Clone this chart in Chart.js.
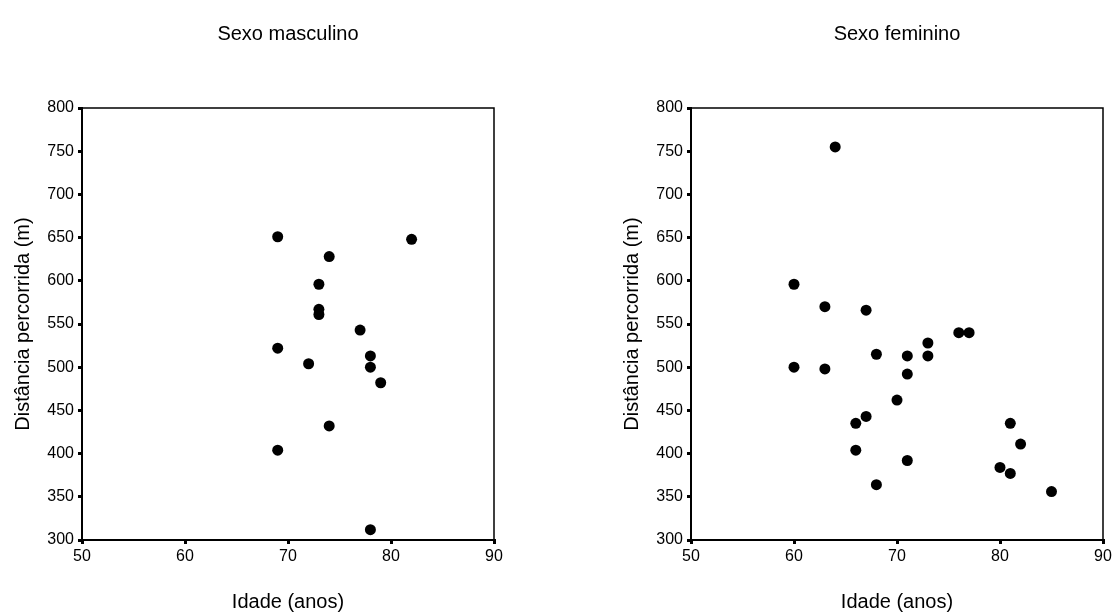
<!DOCTYPE html>
<html lang="pt">
<head>
<meta charset="utf-8">
<title>Distância percorrida por idade</title>
<script src="https://cdn.jsdelivr.net/npm/chart.js@4/dist/chart.umd.min.js"></script>
<style>
    html, body { margin: 0; padding: 0; background: #fff; }
    body { width: 1115px; height: 614px; position: relative; overflow: hidden; }
    canvas { position: absolute; top: 0; }
    #chartMasculino { left: 0; }
    #chartFeminino { left: 609px; }
</style>
</head>
<body>
<canvas id="chartMasculino" width="506" height="614"></canvas>
<canvas id="chartFeminino" width="506" height="614"></canvas>
<script>
// Idade (anos) e distância percorrida (m) de cada participante
const idadeMasculino = [69, 82, 74, 73, 73, 73, 77, 69, 72, 78, 78, 79, 74, 69, 78];
const distanciaMasculino = [651, 648, 628, 596, 567, 561, 543, 522, 504, 513, 500, 482, 432, 404, 312];

const idadeFeminino = [64, 60, 63, 67, 76, 77, 73, 68, 71, 73, 60, 63, 71, 70, 67, 66, 81, 82, 66, 71, 80, 81, 68, 85];
const distanciaFeminino = [755, 596, 570, 566, 540, 540, 528, 515, 513, 513, 500, 498, 492, 462, 443, 435, 435, 411, 404, 392, 384, 377, 364, 356];

// Marcas dos eixos
const ticksIdade = [50, 60, 70, 80, 90];
const ticksDistancia = [300, 350, 400, 450, 500, 550, 600, 650, 700, 750, 800];

const fonte = "Arial, 'Liberation Sans', sans-serif";

// Moldura fina no topo e à direita da área do gráfico
const moldura = {
    id: 'moldura',
    beforeDatasetsDraw(chart) {
        const { ctx, chartArea } = chart;
        ctx.save();
        ctx.strokeStyle = '#000';
        ctx.lineWidth = 1.5;
        ctx.beginPath();
        ctx.moveTo(chartArea.left, chartArea.top);
        ctx.lineTo(chartArea.right, chartArea.top);
        ctx.lineTo(chartArea.right, chartArea.bottom);
        ctx.stroke();
        ctx.restore();
    }
};

function pares(xs, ys) {
    return xs.map((x, i) => ({ x: x, y: ys[i] }));
}

function criarGrafico(canvasId, titulo, idades, distancias) {
    const ctx = document.getElementById(canvasId).getContext('2d');
    return new Chart(ctx, {
        type: 'scatter',
        data: {
            datasets: [{
                data: pares(idades, distancias),
                backgroundColor: '#000',
                borderWidth: 0,
                pointRadius: 5.5,
                pointHoverRadius: 5.5,
                clip: false
            }]
        },
        options: {
            responsive: false,
            animation: false,
            events: [],
            layout: { padding: { left: 0, right: 12, top: 0, bottom: 0 } },
            plugins: {
                legend: { display: false },
                tooltip: { enabled: false },
                title: {
                    display: true,
                    text: titulo,
                    fullSize: false,
                    color: '#000',
                    font: { family: fonte, size: 20, weight: 'normal', lineHeight: 1.2 },
                    padding: { top: 22, bottom: 62 }
                }
            },
            scales: {
                x: {
                    type: 'linear',
                    min: 50,
                    max: 90,
                    afterBuildTicks: (scale) => { scale.ticks = ticksIdade.map(v => ({ value: v })); },
                    afterFit: (scale) => { scale.height = 74; },
                    border: { display: true, color: '#000', width: 2 },
                    grid: { drawOnChartArea: false, drawTicks: true, color: '#000', lineWidth: 3, tickLength: 4 },
                    ticks: { color: '#000', padding: 3, maxRotation: 0, font: { family: fonte, size: 16 } },
                    title: {
                        display: true,
                        text: 'Idade (anos)',
                        color: '#000',
                        font: { family: fonte, size: 20, lineHeight: 1.2 },
                        padding: { top: 0, bottom: 0 }
                    }
                },
                y: {
                    type: 'linear',
                    min: 300,
                    max: 800,
                    afterBuildTicks: (scale) => { scale.ticks = ticksDistancia.map(v => ({ value: v })); },
                    afterFit: (scale) => { scale.width = 82; },
                    border: { display: true, color: '#000', width: 2 },
                    grid: { drawOnChartArea: false, drawTicks: true, color: '#000', lineWidth: 3, tickLength: 4 },
                    ticks: { color: '#000', padding: 4, font: { family: fonte, size: 16 } },
                    title: {
                        display: true,
                        text: 'Distância percorrida (m)',
                        color: '#000',
                        font: { family: fonte, size: 20, lineHeight: 1.2 },
                        padding: { top: 11, bottom: 0 }
                    }
                }
            }
        },
        plugins: [moldura]
    });
}

document.addEventListener('DOMContentLoaded', function () {
    criarGrafico('chartMasculino', 'Sexo masculino', idadeMasculino, distanciaMasculino);
    criarGrafico('chartFeminino', 'Sexo feminino', idadeFeminino, distanciaFeminino);
});
</script>
</body>
</html>
